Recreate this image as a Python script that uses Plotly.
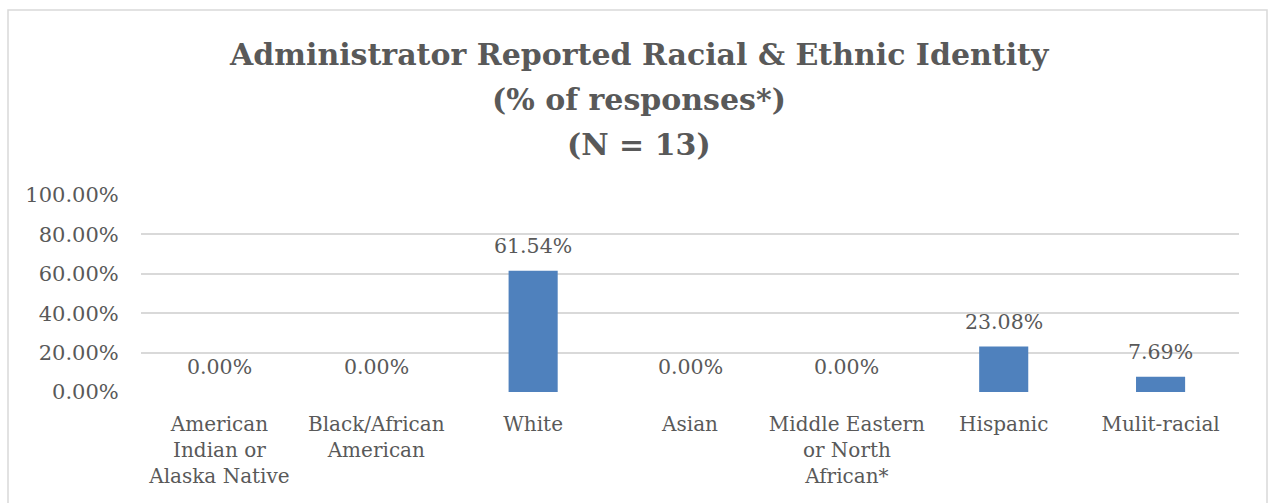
import plotly.graph_objects as go

# Survey results: share of administrator responses per identity group
categories = [
    "American<br>Indian or<br>Alaska Native",
    "Black/African<br>American",
    "White",
    "Asian",
    "Middle Eastern<br>or North<br>African*",
    "Hispanic",
    "Mulit-racial",
]
shares = [0.00, 0.00, 61.54, 0.00, 0.00, 23.08, 7.69]
value_labels = [f"{v:.2f}%" for v in shares]

y_ticks = [0, 20, 40, 60, 80, 100]
y_tick_labels = [f"{t:.2f}%" for t in y_ticks]

title_lines = [
    "Administrator Reported Racial & Ethnic Identity",
    "(% of responses*)",
    "(N = 13)",
]

TEXT = "#595959"
GRID = "#d9d9d9"
BAR = "#4f81bd"
FONT = "DejaVu Serif"

W, H = 1269, 503
ML, MR, MT, MB = 141, 30, 195, 111
PW, PH = W - ML - MR, H - MT - MB


def px_x(x):
    return (x - ML) / PW


def px_y(y):
    return (H - MB - y) / PH


fig = go.Figure(
    go.Bar(
        x=categories,
        y=shares,
        marker=dict(color=BAR, line=dict(width=0)),
        width=0.313,
        hoverinfo="skip",
    )
)

# value labels above each bar
for c, v, t in zip(categories, shares, value_labels):
    fig.add_annotation(
        x=c, y=v, text=t, showarrow=False, yanchor="bottom", yshift=11,
        font=dict(family=FONT, size=20.5, color=TEXT),
    )

# three-line title
for line, yc in zip(title_lines, [54, 99, 144]):
    fig.add_annotation(
        xref="paper", yref="paper", x=px_x(639), y=px_y(yc),
        text=f"<b>{line}</b>", showarrow=False, xanchor="center", yanchor="middle",
        font=dict(family=FONT, size=30, color=TEXT),
    )

# outer chart frame
fig.add_shape(
    type="rect", xref="paper", yref="paper",
    x0=px_x(8), x1=px_x(1267), y0=px_y(520), y1=px_y(10),
    line=dict(color=GRID, width=1.5), fillcolor="rgba(0,0,0,0)", layer="below",
)

fig.update_layout(
    width=W, height=H,
    margin=dict(l=ML, r=MR, t=MT, b=MB, pad=0),
    paper_bgcolor="white", plot_bgcolor="white",
    showlegend=False,
    bargap=0.687,
    font=dict(family=FONT, color=TEXT),
)
fig.update_xaxes(
    type="category",
    showgrid=False, zeroline=False, showline=False,
    ticks="outside", ticklen=14, tickcolor="rgba(0,0,0,0)",
    tickfont=dict(family=FONT, size=20, color=TEXT),
)
fig.update_yaxes(
    range=[0, 100], tickvals=y_ticks, ticktext=y_tick_labels,
    showgrid=True, gridcolor=GRID, gridwidth=2,
    zeroline=False, showline=False,
    ticks="outside", ticklen=17, tickcolor="rgba(0,0,0,0)",
    tickfont=dict(family=FONT, size=21, color=TEXT),
)

fig.write_html("out.html")
